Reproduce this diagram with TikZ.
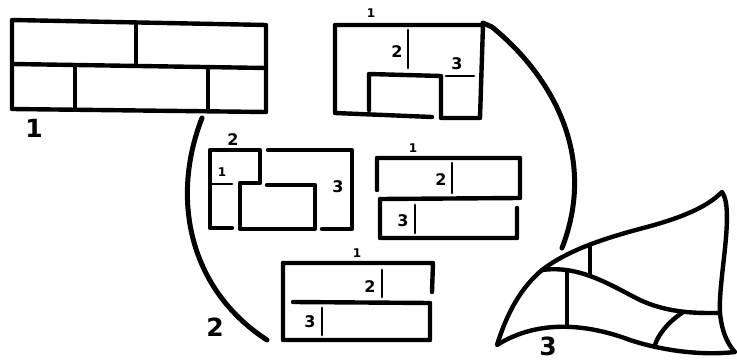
\documentclass[tikz,border=0pt]{standalone}
\usepackage{fontspec}
\setmainfont{DejaVu Sans}
\begin{document}
\begin{tikzpicture}[x=1pt,y=-1pt,
  wall/.style={line width=4.4pt,line cap=round,line join=round},
  thin/.style={line width=2.8pt,line cap=round},
  arc/.style={line width=5pt,line cap=round},
  big/.style={font=\bfseries\fontsize{25}{25}\selectfont,inner sep=0pt},
  mid/.style={font=\bfseries\fontsize{16}{16}\selectfont,inner sep=0pt},
  sm/.style={font=\bfseries\fontsize{12}{12}\selectfont,inner sep=0pt}]
\useasboundingbox (0,0) rectangle (737,363);
% Figure 1
\draw[wall] (12,20) -- (266,25) -- (266,112) -- (12,109) -- cycle;
\draw[wall] (12,64) -- (266,68);
\draw[wall] (136,23) -- (136,66);
\draw[wall] (75,65) -- (75,109);
\draw[wall] (208,67) -- (208,111);
\node[big] (l1) at (34,128) {1};
% Figure 2: top block
\draw[wall] (483,25) -- (335,25) -- (335,113) -- (432,117);
\draw[wall] (483,25) -- (480,118) -- (441,118) -- (441,76) -- (369,74) -- (369,110);
\draw[thin] (446,76) -- (474,76);
\draw[thin] (408,30) -- (408,68);
\node[mid] (a2) at (397,52) {2};
\node[mid] (a3) at (457,64) {3};
\node[sm] (a1) at (371,13) {1};
% middle-left block
\draw[wall] (232,228) -- (210,228) -- (210,150) -- (260,150) -- (260,183) -- (240,183) -- (240,229) -- (315,229) -- (315,185) -- (267,185);
\draw[wall] (268,150) -- (352,150) -- (352,229) -- (322,229);
\draw[thin] (211,184) -- (232,184);
\node[mid] (b2) at (233,140) {2};
\node[sm] (b1) at (222,172) {1};
\node[mid] (b3) at (338,187) {3};
% middle-right block
\draw[wall] (377,190) -- (377,158) -- (520,158) -- (520,198) -- (380,199) -- (380,238) -- (517,238) -- (517,208);
\draw[thin] (452,163) -- (452,193);
\draw[thin] (415,205) -- (415,233);
\node[sm] (c1) at (413,148) {1};
\node[mid] (c2) at (441,180) {2};
\node[mid] (c3) at (403,221) {3};
% bottom block
\draw[wall] (432,292) -- (433,263) -- (283,263) -- (283,340) -- (430,340) -- (430,303) -- (293,302);
\draw[thin] (382,270) -- (382,297);
\draw[thin] (322,308) -- (322,335);
\node[sm] (d1) at (357,253) {1};
\node[mid] (d2) at (370,287) {2};
\node[mid] (d3) at (310,322) {3};
% arcs
\draw[arc] (483,23) -- (492,27) .. controls (545,70) and (600,150) .. (562,248);
\draw[arc] (202,118) .. controls (170,200) and (190,290) .. (267,340);
\node[big] (l2) at (215,327) {2};
% Figure 3
\draw[wall] (497,345) .. controls (508,310) and (522,287) .. (542,270)
  .. controls (568,250) and (605,238) .. (647,227)
  .. controls (680,218) and (706,208) .. (722,192)
  .. controls (735,210) and (718,280) .. (720,313)
  .. controls (722,335) and (730,347) .. (735,352)
  .. controls (700,356) and (660,350) .. (630,340)
  .. controls (590,325) and (540,318) .. (497,345) -- cycle;
\draw[wall] (542,270) .. controls (580,265) and (610,285) .. (640,300)
  .. controls (670,314) and (700,313) .. (720,313);
\draw[wall] (590,247) -- (590,275);
\draw[wall] (567,272) -- (567,325);
\draw[wall] (682,313) .. controls (668,322) and (658,335) .. (655,345);
\node[big] (l3) at (548,346) {3};
\end{tikzpicture}
\end{document}
